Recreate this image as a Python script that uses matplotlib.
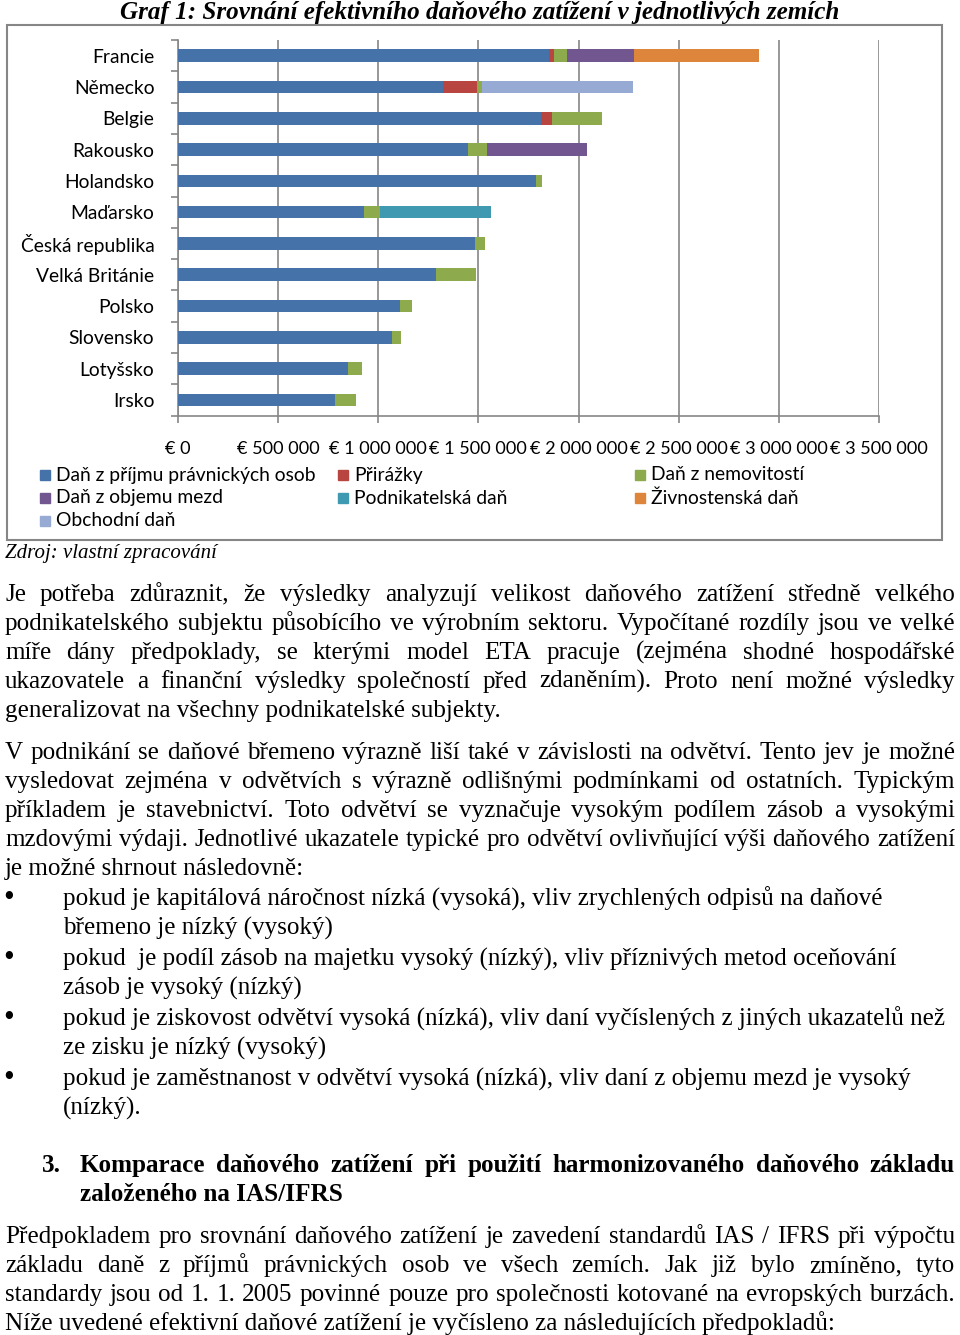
import matplotlib
matplotlib.use("Agg")
import matplotlib.pyplot as plt
from matplotlib.patches import Rectangle
import numpy as np

W, H = 960, 1335

countries = ["Francie", "Německo", "Belgie", "Rakousko", "Holandsko", "Maďarsko",
             "Česká republika", "Velká Británie", "Polsko", "Slovensko", "Lotyšsko", "Irsko"]

dan_prijmu = [1850000, 1322000, 1814000, 1449000, 1789000, 930000,
              1483000, 1288000, 1108000, 1066000, 850000, 786000]
prirazky = [29000, 170000, 54000, 0, 0, 0, 0, 0, 0, 0, 0, 0]
nemovitosti = [61000, 25000, 247000, 94000, 29000, 78000,
               52000, 199000, 59000, 48000, 71000, 103000]
objem_mezd = [335000, 0, 0, 497000, 0, 0, 0, 0, 0, 0, 0, 0]
podnikatelska = [0, 0, 0, 0, 0, 557000, 0, 0, 0, 0, 0, 0]
zivnostenska = [626000, 0, 0, 0, 0, 0, 0, 0, 0, 0, 0, 0]
obchodni = [0, 756000, 0, 0, 0, 0, 0, 0, 0, 0, 0, 0]

series_names = ["Daň z příjmu právnických osob", "Přirážky", "Daň z nemovitostí",
                "Daň z objemu mezd", "Podnikatelská daň", "Živnostenská daň", "Obchodní daň"]
series_values = [dan_prijmu, prirazky, nemovitosti, objem_mezd, podnikatelska, zivnostenska, obchodni]
series_colors = ["#4572a8", "#b8453f", "#8dab4c", "#71568f", "#3f99b1", "#de853c", "#96aad3"]

x_ticks = [0, 500000, 1000000, 1500000, 2000000, 2500000, 3000000, 3500000]

para1 = [
    "Je potřeba zdůraznit, že výsledky analyzují velikost daňového zatížení středně velkého",
    "podnikatelského subjektu působícího ve výrobním sektoru. Vypočítané rozdíly jsou ve velké",
    "míře dány předpoklady, se kterými model ETA pracuje (zejména shodné hospodářské",
    "ukazovatele a finanční výsledky společností před zdaněním). Proto není možné výsledky",
]
para1_last = "generalizovat na všechny podnikatelské subjekty."
para2 = [
    "V podnikání se daňové břemeno výrazně liší také v závislosti na odvětví. Tento jev je možné",
    "vysledovat zejména v odvětvích s výrazně odlišnými podmínkami od ostatních. Typickým",
    "příkladem je stavebnictví. Toto odvětví se vyznačuje vysokým podílem zásob a vysokými",
    "mzdovými výdaji. Jednotlivé ukazatele typické pro odvětví ovlivňující výši daňového zatížení",
]
para2_last = "je možné shrnout následovně:"
bullets = [
    ("pokud je kapitálová náročnost nízká (vysoká), vliv zrychlených odpisů na daňové",
     "břemeno je nízký (vysoký)"),
    ("pokud  je podíl zásob na majetku vysoký (nízký), vliv příznivých metod oceňování",
     "zásob je vysoký (nízký)"),
    ("pokud je ziskovost odvětví vysoká (nízká), vliv daní vyčíslených z jiných ukazatelů než",
     "ze zisku je nízký (vysoký)"),
    ("pokud je zaměstnanost v odvětví vysoká (nízká), vliv daní z objemu mezd je vysoký",
     "(nízký)."),
]
heading = ["Komparace daňového zatížení při použití harmonizovaného daňového základu",
           "založeného na IAS/IFRS"]
para3 = [
    "Předpokladem pro srovnání daňového zatížení je zavedení standardů IAS / IFRS při výpočtu",
    "základu daně z příjmů právnických osob ve všech zemích. Jak již bylo zmíněno, tyto",
    "standardy jsou od 1. 1. 2005 povinné pouze pro společnosti kotované na evropských burzách.",
]
para3_last = "Níže uvedené efektivní daňové zatížení je vyčísleno za následujících předpokladů:"

SERIF = "Liberation Serif"
SANS = "Lato"
BODY = 18.1
GRAY = "#868686"


def fx(x):
    return x / W


def fy(y):
    return 1 - y / H


def put(fig, x, y, s, **kw):
    return fig.text(fx(x), fy(y), s, **kw)


def justify(fig, renderer, s, x0, x1, y, **kw):
    words = s.split()
    texts = [fig.text(0, fy(y), w, va="baseline", **kw) for w in words]
    widths = [t.get_window_extent(renderer).width for t in texts]
    gap = (x1 - x0 - sum(widths)) / (len(words) - 1)
    x = x0
    for t, w in zip(texts, widths):
        t.set_x(fx(x))
        x += w + gap


fig = plt.figure(figsize=(W / 100, H / 100), dpi=100)
renderer = fig.canvas.get_renderer()

# title + chart frame
put(fig, 480, 12, "Graf 1: Srovnání efektivního daňového zatížení v jednotlivých zemích",
    ha="center", va="center", family=SERIF, fontsize=18.1, fontweight="bold", style="italic")
fig.add_artist(Rectangle((fx(7), fy(540)), fx(942) - fx(7), fy(25) - fy(540),
                         transform=fig.transFigure, fill=False, edgecolor=GRAY, lw=1.5))

ax = fig.add_axes([fx(178), fy(415.6), fx(879) - fx(178), fy(40) - fy(415.6)])
ypos = np.arange(len(countries))
left = np.zeros(len(countries))
for name, vals, col in zip(series_names, series_values, series_colors):
    ax.barh(ypos, vals, left=left, height=0.4, color=col, label=name, zorder=3)
    left += np.array(vals)

ax.set_xlim(0, 3500000)
ax.set_ylim(len(countries) - 0.5, -0.5)
ax.set_xticks(x_ticks)
ax.set_xticklabels(["€ " + f"{v:,}".replace(",", " ") for v in x_ticks])
ax.set_yticks(np.arange(-0.5, len(countries), 1))
ax.set_yticklabels([])
ax.set_yticks(ypos, minor=True)
ax.set_yticklabels(countries, minor=True)
ax.tick_params(axis="y", which="major", length=5, color=GRAY, width=1.2)
ax.tick_params(axis="y", which="minor", length=0, pad=17, labelsize=13.9)
ax.tick_params(axis="x", length=5, color=GRAY, width=1.2, pad=13, labelsize=13.1)
for lab in ax.get_xticklabels() + ax.get_yticklabels(minor=True):
    lab.set_family(SANS)
ax.grid(axis="x", color=GRAY, lw=1.2, zorder=0)
ax.set_axisbelow(True)
for s in ("top", "right"):
    ax.spines[s].set_visible(False)
for s in ("left", "bottom"):
    ax.spines[s].set_color(GRAY)
    ax.spines[s].set_linewidth(1.2)

# legend, three equal columns like the original
cols_x = [40, 338, 635]
rows_y = [475, 498, 521]
for i, (name, col) in enumerate(zip(series_names, series_colors)):
    cx = cols_x[i % 3]
    cy = rows_y[i // 3]
    fig.add_artist(Rectangle((fx(cx), fy(cy + 5)), 10 / W, 10 / H,
                             transform=fig.transFigure, color=col))
    put(fig, cx + 16, cy, name, va="center", ha="left", family=SANS, fontsize=13.9)

put(fig, 5, 554, "Zdroj: vlastní zpracování", va="center", family=SERIF,
    fontsize=15, style="italic")

# body text
body = dict(family=SERIF, fontsize=BODY)
y = 601
for line in para1:
    justify(fig, renderer, line, 5, 955, y, **body)
    y += 29
put(fig, 5, y, para1_last, va="baseline", **body)

y = 759
for line in para2:
    justify(fig, renderer, line, 5, 955, y, **body)
    y += 29
put(fig, 5, y, para2_last, va="baseline", **body)

y = 906
for first, second in bullets:
    put(fig, 3, y, "•", va="baseline", family=SERIF, fontsize=22)
    put(fig, 63, y, first, va="baseline", **body)
    put(fig, 63, y + 29, second, va="baseline", **body)
    y += 60

bold = dict(family=SERIF, fontsize=BODY, fontweight="bold")
put(fig, 42, 1172, "3.", va="baseline", **bold)
justify(fig, renderer, heading[0], 80, 955, 1172, **bold)
put(fig, 80, 1201, heading[1], va="baseline", **bold)

y = 1243
for line in para3:
    justify(fig, renderer, line, 5, 955, y, **body)
    y += 29
put(fig, 5, y, para3_last, va="baseline", **body)

fig.savefig("out.png", dpi=100)
